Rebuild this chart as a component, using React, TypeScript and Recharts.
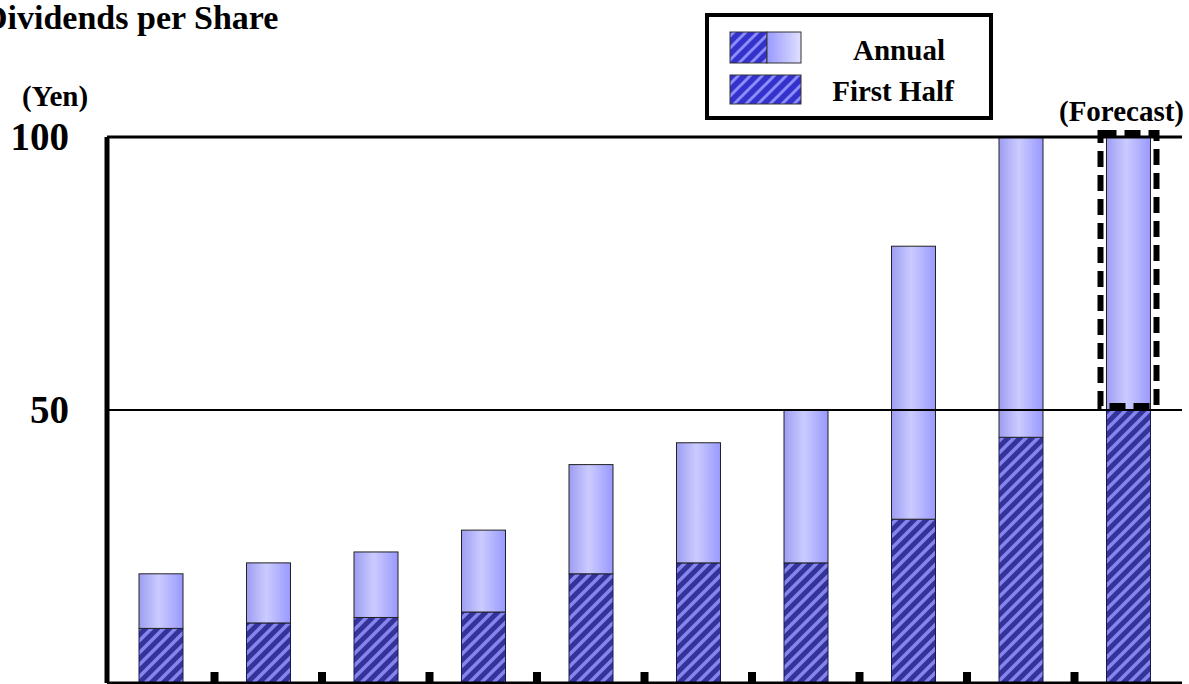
import React from 'react';
import { BarChart, Bar, XAxis, YAxis, ReferenceLine, Legend } from 'recharts';

// 配当データ（年間 / 上期）
const categories = ['FY1', 'FY2', 'FY3', 'FY4', 'FY5', 'FY6', 'FY7', 'FY8', 'FY9', 'FY10'];
const annual = [20, 22, 24, 28, 40, 44, 50, 80, 100, 100];
const firstHalf = [10, 11, 12, 13, 20, 22, 22, 30, 45, 50];
const isForecast = [false, false, false, false, false, false, false, false, false, true];
const yTicks = [0, 50, 100];
const legendLabels = ['Annual', 'First Half'];

const W = 1189;
const H = 684;
const PLOT_LEFT = 107;
const PLOT_RIGHT = 7;
const STEP = (W - PLOT_LEFT - PLOT_RIGHT) / categories.length;
const FONT = '"Liberation Serif", "Times New Roman", serif';

const data = categories.map((c, i) => ({
  name: c,
  first: firstHalf[i],
  second: annual[i] - firstHalf[i],
}));

const YTick = ({ y, payload }: any) => {
  if (payload.value === 0) return <g />;
  return (
    <text x={69} y={y + 13} textAnchor="end" fontFamily={FONT} fontWeight="bold" fontSize={39} fill="#000">
      {payload.value}
    </text>
  );
};

// カテゴリ境界の小さな目盛り
const XTick = ({ x, y, index }: any) => {
  if (index >= categories.length - 1) return <g />;
  return <rect x={x + STEP / 2 - 4} y={y - 11} width={8} height={11} fill="#000" />;
};

const SecondHalfShape = (props: any) => {
  const { x, y, width, height, index } = props;
  return (
    <g>
      <rect x={x} y={y} width={width} height={height} fill="url(#barGrad)" stroke="#222" strokeWidth={1} />
      {isForecast[index] && (
        <g>
          <rect
            x={x - 6}
            y={y - 4}
            width={width + 12}
            height={height}
            fill="none"
            stroke="#000"
            strokeWidth={6}
            strokeDasharray="16 8"
          />
          <text x={x + width / 2 - 7} y={y - 16} textAnchor="middle" fontFamily={FONT} fontWeight="bold" fontSize={29} fill="#000">
            (Forecast)
          </text>
        </g>
      )}
    </g>
  );
};

const LegendBox = () => (
  <svg width={290} height={108} style={{ display: 'block' }}>
    <defs>
      <pattern id="hatchLegend" patternUnits="userSpaceOnUse" width="12" height="12">
        <rect width="12" height="12" fill="#3333cc" />
        <path d="M-3,3 L3,-3 M0,12 L12,0 M9,15 L15,9" stroke="#8c8cff" strokeWidth="3" />
      </pattern>
      <linearGradient id="legendGrad" x1="0" y1="0" x2="1" y2="0">
        <stop offset="0" stopColor="#9999ff" />
        <stop offset="1" stopColor="#e0e0ff" />
      </linearGradient>
    </defs>
    <rect x={2} y={2} width={284} height={103} fill="#fff" stroke="#000" strokeWidth={4} />
    <rect x={25} y={19} width={37} height={31} fill="url(#hatchLegend)" stroke="#333" strokeWidth={1} />
    <rect x={62} y={19} width={34} height={31} fill="url(#legendGrad)" stroke="#333" strokeWidth={1} />
    <text x={194} y={47} textAnchor="middle" fontFamily={FONT} fontWeight="bold" fontSize={29} fill="#000">
      {legendLabels[0]}
    </text>
    <rect x={25} y={62} width={71} height={29} fill="url(#hatchLegend)" stroke="#333" strokeWidth={1} />
    <text x={188} y={88} textAnchor="middle" fontFamily={FONT} fontWeight="bold" fontSize={29} fill="#000">
      {legendLabels[1]}
    </text>
  </svg>
);

export default function App() {
  return (
    <div style={{ position: 'absolute', left: 0, top: 0, width: W, height: H, background: '#fff', overflow: 'hidden' }}>
      <BarChart width={W} height={H} data={data} margin={{ top: 137, right: PLOT_RIGHT, bottom: 0, left: 0 }}>
        <defs>
          <pattern id="hatchBar" patternUnits="userSpaceOnUse" width="12" height="12">
            <rect width="12" height="12" fill="#333399" />
            <path d="M-3,3 L3,-3 M0,12 L12,0 M9,15 L15,9" stroke="#8585ee" strokeWidth="3.5" />
          </pattern>
          <linearGradient id="barGrad" x1="0" y1="0" x2="1" y2="0">
            <stop offset="0" stopColor="#9d9df3" />
            <stop offset="0.45" stopColor="#cbcbff" />
            <stop offset="1" stopColor="#9999ff" />
          </linearGradient>
        </defs>
        <XAxis
          dataKey="name"
          height={1}
          tickSize={0}
          tickMargin={0}
          tickLine={false}
          axisLine={{ stroke: '#000', strokeWidth: 3 }}
          tick={<XTick />}
          interval={0}
        />
        <YAxis
          width={PLOT_LEFT}
          domain={[0, 100]}
          ticks={yTicks}
          tickLine={false}
          axisLine={{ stroke: '#000', strokeWidth: 5 }}
          tick={<YTick />}
          interval={0}
        />
        <Bar
          dataKey="first"
          stackId="a"
          barSize={44}
          fill="url(#hatchBar)"
          stroke="#1a1a4d"
          strokeWidth={1}
          isAnimationActive={false}
        />
        <Bar dataKey="second" stackId="a" barSize={44} shape={<SecondHalfShape />} isAnimationActive={false} />
        <ReferenceLine y={50} stroke="#000" strokeWidth={2} />
        <ReferenceLine y={100} stroke="#000" strokeWidth={3} />
        <Legend
          verticalAlign="middle"
          align="center"
          content={<LegendBox />}
          wrapperStyle={{ position: 'absolute', left: 705, top: 13, width: 290, height: 108 }}
        />
      </BarChart>
      <svg width={W} height={H} style={{ position: 'absolute', left: 0, top: 0, pointerEvents: 'none' }}>
        <text x={-17} y={29} fontFamily={FONT} fontWeight="bold" fontSize={34} fill="#000">
          Dividends per Share
        </text>
        <text x={22} y={106} fontFamily={FONT} fontWeight="bold" fontSize={29} fill="#000">
          (Yen)
        </text>
      </svg>
    </div>
  );
}
